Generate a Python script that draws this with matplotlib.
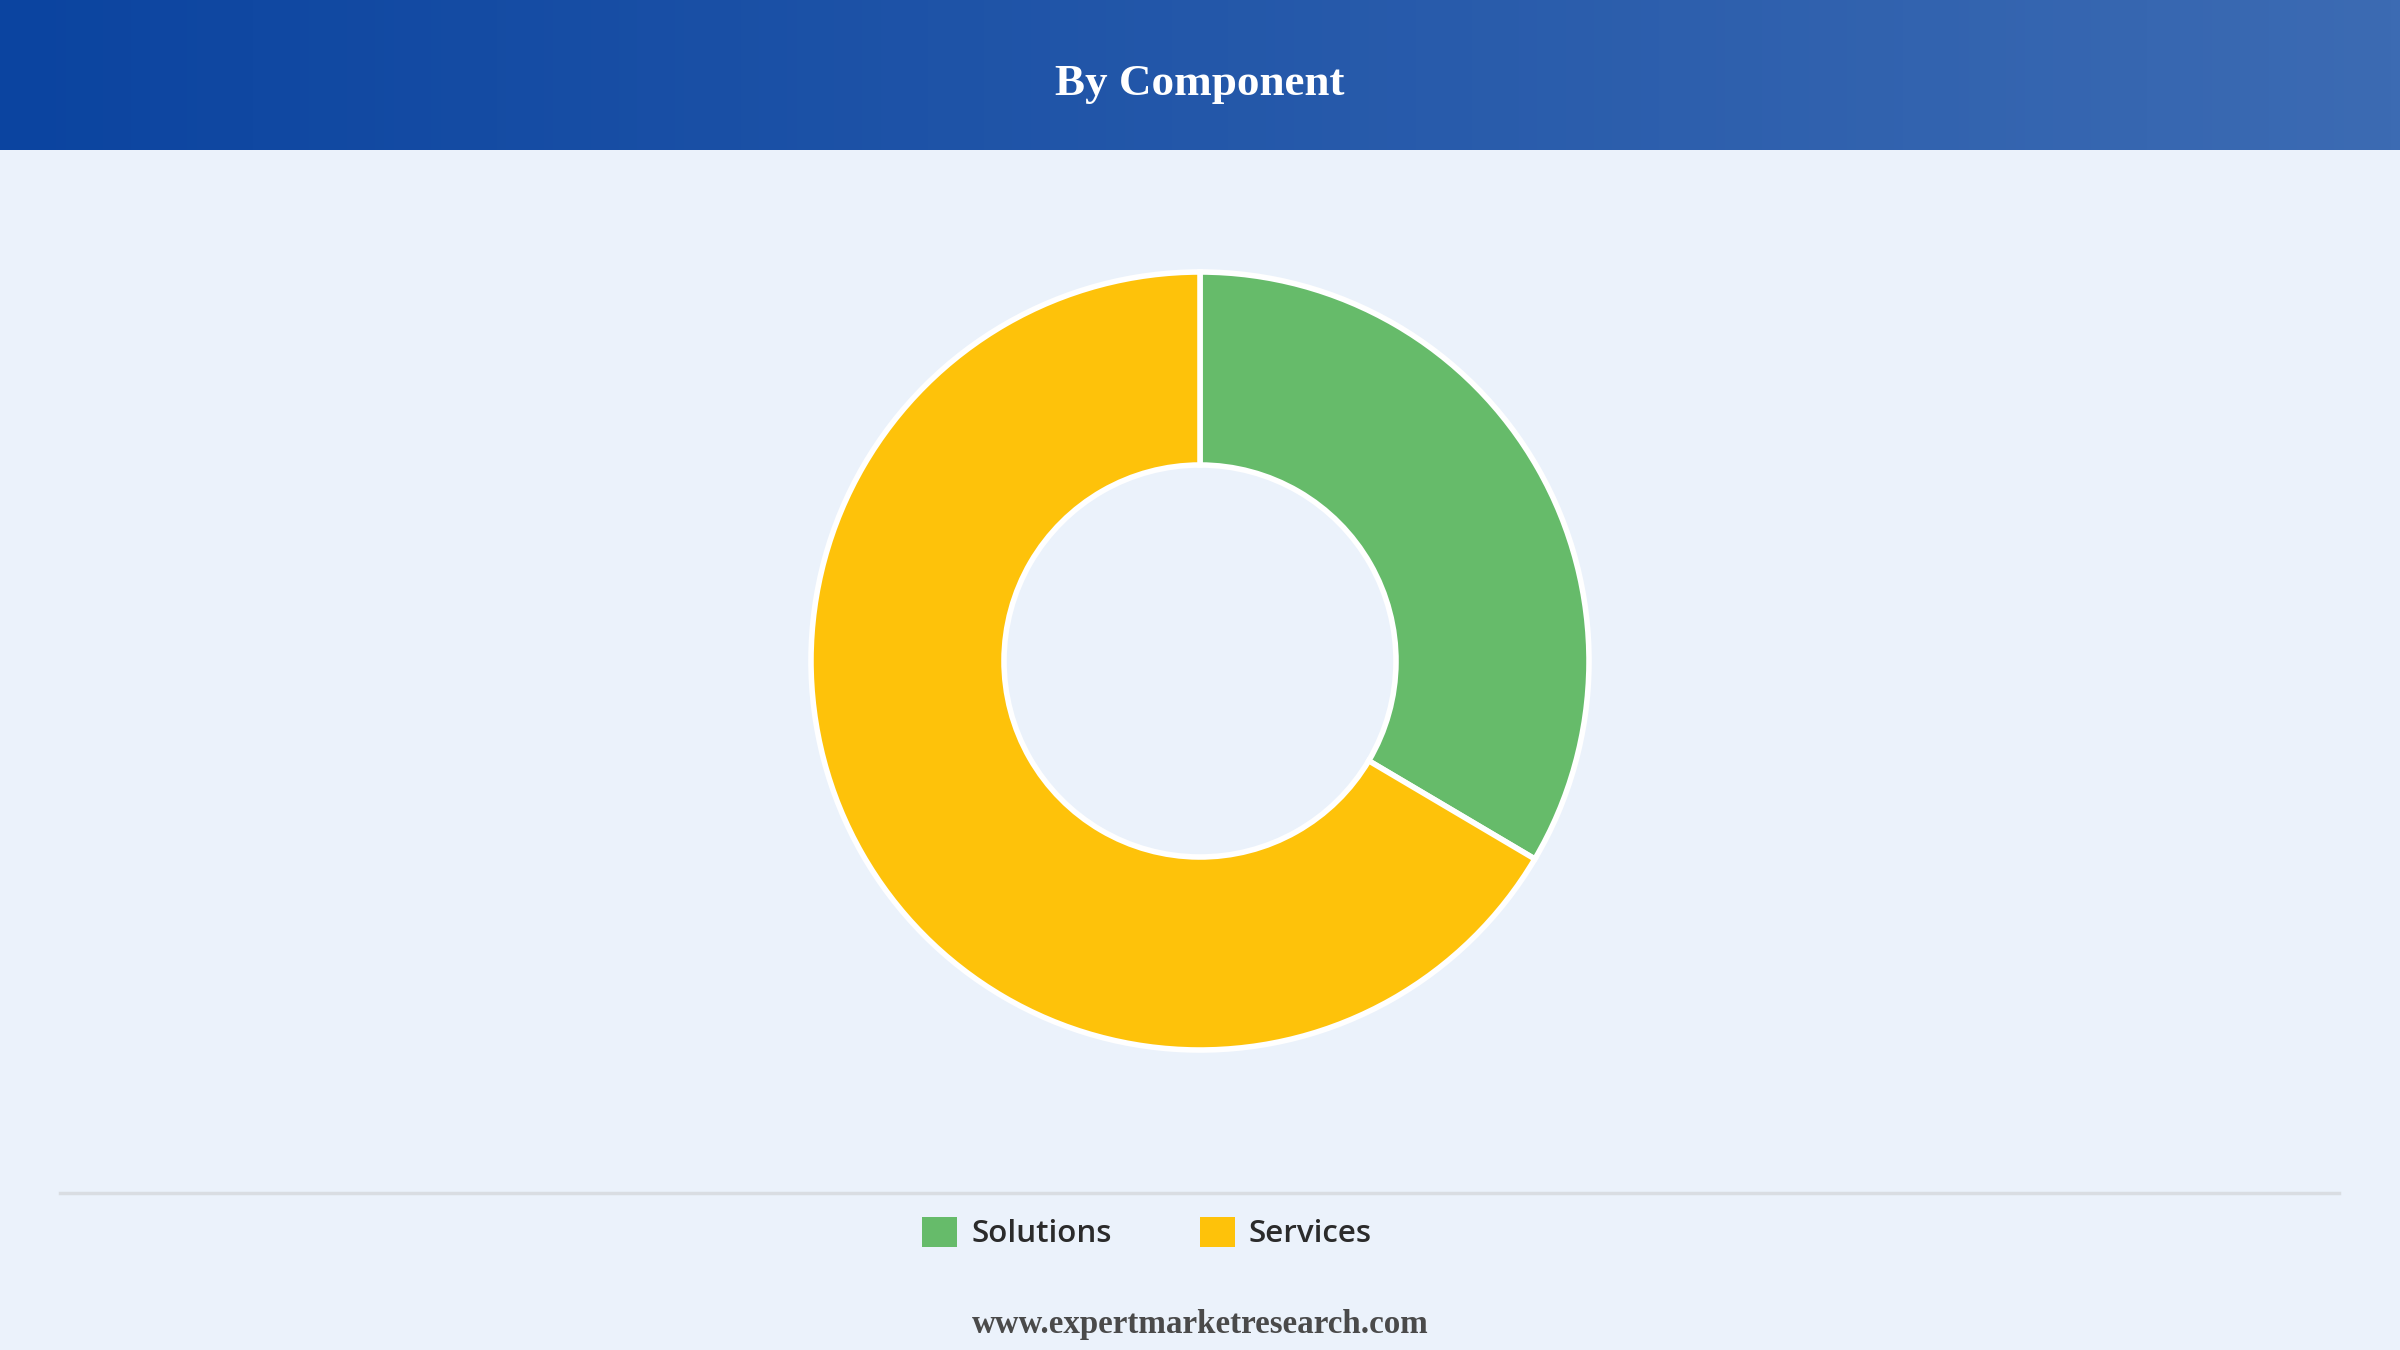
import numpy as np
import matplotlib
matplotlib.use("Agg")
import matplotlib.pyplot as plt
from matplotlib.patches import Patch
from matplotlib.colors import LinearSegmentedColormap

# data
categories = ['Solutions', 'Services']
shares = [33.5, 66.5]
colors = ['#66BB6A', '#FEC20A']
title = 'By Component'
footer = 'www.expertmarketresearch.com'

W, H = 2400, 1350
bg = '#EBF2FB'

fig = plt.figure(figsize=(24, 13.5), dpi=100, facecolor=bg)
ax = fig.add_axes([0, 0, 1, 1])
ax.set_facecolor(bg)

# header band with gradient
grad = np.linspace(0, 1, 256).reshape(1, -1)
cmap = LinearSegmentedColormap.from_list('hdr', ['#0B44A0', '#3C6BB3'])
ax.imshow(grad, cmap=cmap, aspect='auto', extent=[0, W, H - 150, H], zorder=1)
ax.text(W / 2, H - 84, title, ha='center', va='center', color='white',
        fontsize=32.5, fontweight='bold', family='Liberation Serif', zorder=2)

# donut
ax.pie(shares, colors=colors, startangle=90, counterclock=False,
       center=(1200, H - 661), radius=389,
       wedgeprops=dict(width=193, edgecolor='white', linewidth=4))

# separator line
ax.plot([60, 2339], [H - 1193, H - 1193], color='#D9DDE2', linewidth=2.5)

# legend
handles = [Patch(facecolor=c, edgecolor='none') for c in colors]
leg = ax.legend(handles, categories, loc='center left',
                bbox_to_anchor=(922 / W, 1 - 1233 / H),
                ncol=2, frameon=False, handlelength=1.12, handleheight=1.12,
                handletextpad=0.45, columnspacing=2.8, borderpad=0, borderaxespad=0,
                prop={'family': 'Open Sans', 'size': 22.6, 'weight': 'semibold'})
for t in leg.get_texts():
    t.set_color('#2B2B2B')

ax.text(W / 2, H - 1324, footer, ha='center', va='center', color='#4A4A4A',
        fontsize=23.8, fontweight='bold', family='Liberation Serif')

ax.set_xlim(0, W)
ax.set_ylim(0, H)
ax.set_aspect('auto')
ax.axis('off')

fig.savefig('out.png', dpi=100, facecolor=bg)
